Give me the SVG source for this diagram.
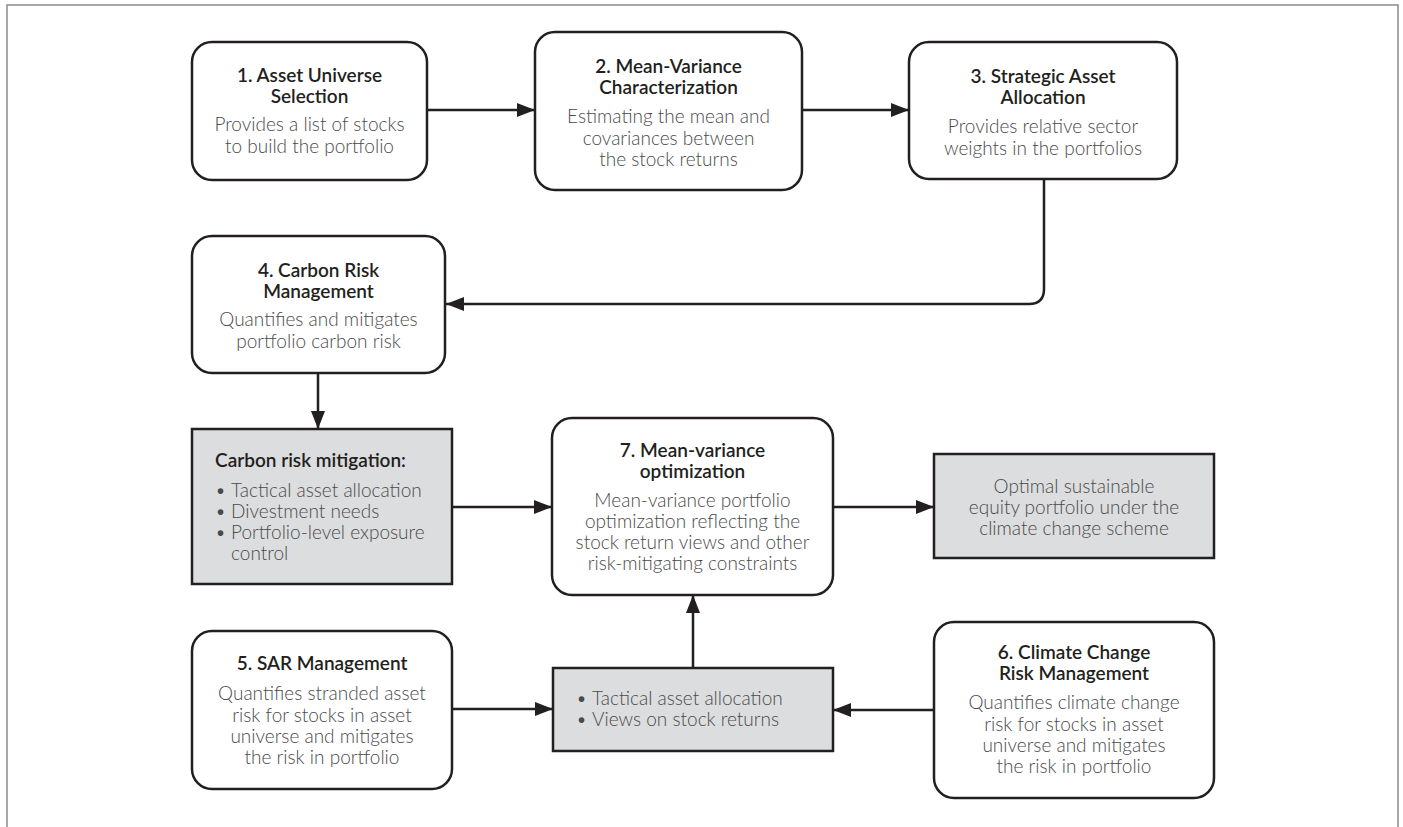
<svg xmlns="http://www.w3.org/2000/svg" width="1403" height="827" viewBox="0 0 1403 827">
<style>
.frame{fill:none;stroke:#8a8a8a;stroke-width:1.5}
.box{fill:#ffffff;stroke:#231f20;stroke-width:2.5}
.gbox{fill:#dcdddf;stroke:#231f20;stroke-width:2.5}
.t{font-family:Lato,"Open Sans",sans-serif;font-weight:600;font-size:19px;fill:#231f20;text-anchor:middle}
.d{font-family:Lato,"Open Sans",sans-serif;font-weight:300;font-size:19px;fill:#4a4a4a;text-anchor:middle}
.tl{font-family:Lato,"Open Sans",sans-serif;font-weight:600;font-size:19px;fill:#231f20}
.dl{font-family:Lato,"Open Sans",sans-serif;font-weight:300;font-size:19px;fill:#4a4a4a}
.c{fill:none;stroke:#231f20;stroke-width:2.5}
</style>
<defs>
<marker id="ah" markerUnits="userSpaceOnUse" markerWidth="18" markerHeight="14" refX="18" refY="7" orient="auto">
<path d="M0,0 L18,7 L0,14 z" fill="#231f20"/>
</marker>
</defs>
<path class="frame" d="M7,827 V5 H1398 V827"/>

<g id="connectors">
<line class="c" x1="427" y1="110" x2="535" y2="110" marker-end="url(#ah)"/>
<line class="c" x1="802" y1="110" x2="909" y2="110" marker-end="url(#ah)"/>
<path class="c" d="M1044,179 V289 Q1044,304 1029,304 H446" marker-end="url(#ah)"/>
<line class="c" x1="318" y1="373" x2="318" y2="429" marker-end="url(#ah)"/>
<line class="c" x1="452" y1="507" x2="552" y2="507" marker-end="url(#ah)"/>
<line class="c" x1="833" y1="507" x2="934" y2="507" marker-end="url(#ah)"/>
<line class="c" x1="452" y1="709" x2="553" y2="709" marker-end="url(#ah)"/>
<line class="c" x1="934" y1="710" x2="833" y2="710" marker-end="url(#ah)"/>
<line class="c" x1="693" y1="668" x2="693" y2="595" marker-end="url(#ah)"/>
</g>

<g id="n1">
<rect class="box" x="192" y="42" width="235" height="138" rx="20"/>
<text class="t" x="309.5" y="82">1. Asset Universe</text>
<text class="t" x="309.5" y="103">Selection</text>
<text class="d" x="309.5" y="131">Provides a list of stocks</text>
<text class="d" x="309.5" y="153">to build the portfolio</text>
</g>

<g id="n2">
<rect class="box" x="535" y="32" width="267" height="158" rx="20"/>
<text class="t" x="668.5" y="73">2. Mean-Variance</text>
<text class="t" x="668.5" y="94">Characterization</text>
<text class="d" x="668.5" y="123">Estimating the mean and</text>
<text class="d" x="668.5" y="145">covariances between</text>
<text class="d" x="668.5" y="166">the stock returns</text>
</g>

<g id="n3">
<rect class="box" x="909" y="42" width="268" height="137" rx="20"/>
<text class="t" x="1043" y="83">3. Strategic Asset</text>
<text class="t" x="1043" y="104">Allocation</text>
<text class="d" x="1043" y="133">Provides relative sector</text>
<text class="d" x="1043" y="155">weights in the portfolios</text>
</g>

<g id="n4">
<rect class="box" x="192" y="236" width="253" height="137" rx="20"/>
<text class="t" x="318.5" y="277">4. Carbon Risk</text>
<text class="t" x="318.5" y="298">Management</text>
<text class="d" x="318.5" y="326">Quantifies and mitigates</text>
<text class="d" x="318.5" y="348">portfolio carbon risk</text>
</g>

<g id="carbon-mitigation">
<rect class="gbox" x="192" y="429" width="260" height="155"/>
<text class="tl" x="215" y="467">Carbon risk mitigation:</text>
<text class="dl" x="215" y="497">•</text>
<text class="dl" x="231" y="497">Tactical asset allocation</text>
<text class="dl" x="215" y="518">•</text>
<text class="dl" x="231" y="518">Divestment needs</text>
<text class="dl" x="215" y="539">•</text>
<text class="dl" x="231" y="539">Portfolio-level exposure</text>
<text class="dl" x="231" y="560">control</text>
</g>

<g id="n7">
<rect class="box" x="552" y="418" width="281" height="177" rx="20"/>
<text class="t" x="692.5" y="457">7. Mean-variance</text>
<text class="t" x="692.5" y="478">optimization</text>
<text class="d" x="692.5" y="507">Mean-variance portfolio</text>
<text class="d" x="692.5" y="528">optimization reflecting the</text>
<text class="d" x="692.5" y="549">stock return views and other</text>
<text class="d" x="692.5" y="570">risk-mitigating constraints</text>
</g>

<g id="optimal">
<rect class="gbox" x="934" y="454" width="280" height="104"/>
<text class="d" x="1074" y="493">Optimal sustainable</text>
<text class="d" x="1074" y="514">equity portfolio under the</text>
<text class="d" x="1074" y="535">climate change scheme</text>
</g>

<g id="n5">
<rect class="box" x="192" y="631" width="260" height="158" rx="20"/>
<text class="t" x="322" y="670">5. SAR Management</text>
<text class="d" x="322" y="700">Quantifies stranded asset</text>
<text class="d" x="322" y="722">risk for stocks in asset</text>
<text class="d" x="322" y="743">universe and mitigates</text>
<text class="d" x="322" y="764">the risk in portfolio</text>
</g>

<g id="views">
<rect class="gbox" x="553" y="668" width="280" height="83"/>
<text class="dl" x="576" y="705">•</text>
<text class="dl" x="592" y="705">Tactical asset allocation</text>
<text class="dl" x="576" y="726">•</text>
<text class="dl" x="592" y="726">Views on stock returns</text>
</g>

<g id="n6">
<rect class="box" x="934" y="622" width="280" height="176" rx="20"/>
<text class="t" x="1074" y="659">6. Climate Change</text>
<text class="t" x="1074" y="680">Risk Management</text>
<text class="d" x="1074" y="709">Quantifies climate change</text>
<text class="d" x="1074" y="731">risk for stocks in asset</text>
<text class="d" x="1074" y="752">universe and mitigates</text>
<text class="d" x="1074" y="773">the risk in portfolio</text>
</g>
</svg>
